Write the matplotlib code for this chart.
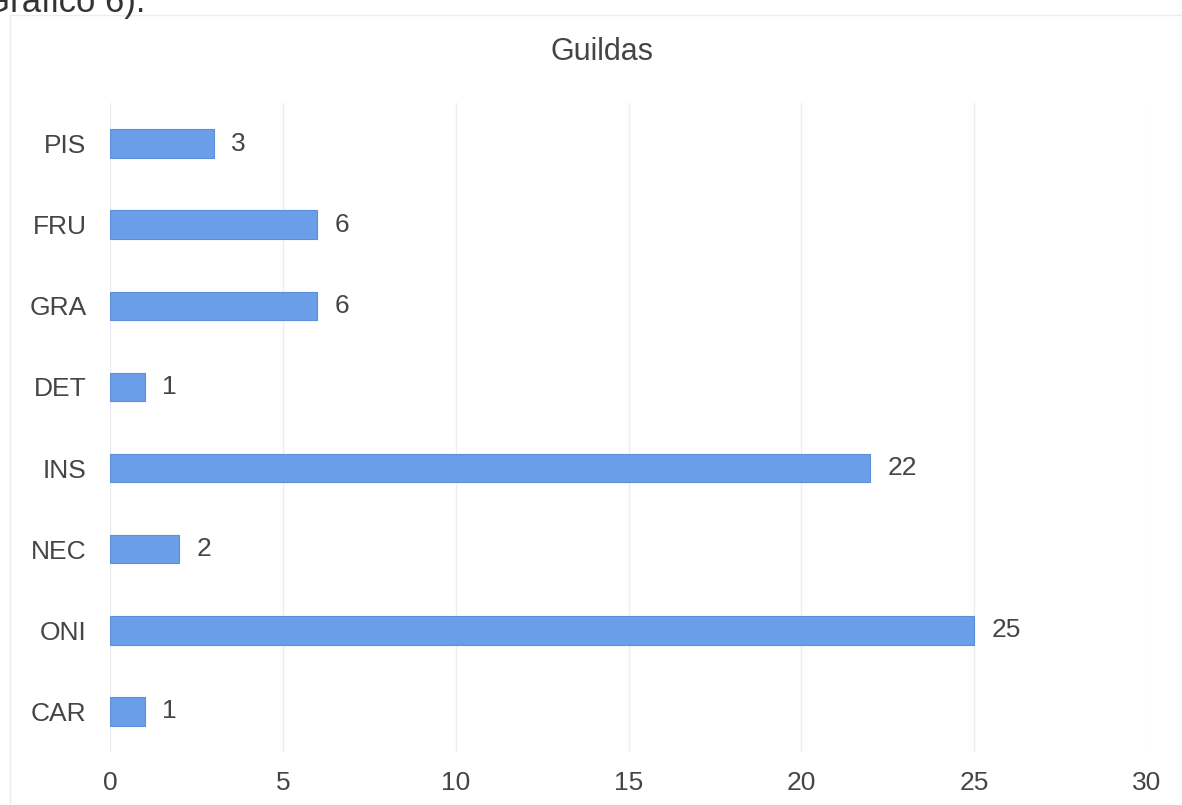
import matplotlib
matplotlib.use("Agg")
import matplotlib.pyplot as plt
from matplotlib.lines import Line2D

categories = ["CAR", "ONI", "NEC", "INS", "DET", "GRA", "FRU", "PIS"]
values = [1, 25, 2, 22, 1, 6, 6, 3]
xticks = [0, 5, 10, 15, 20, 25, 30]
title = "Guildas"

plt.rcParams['font.family'] = ['Liberation Sans', 'DejaVu Sans']
text_color = "#454545"

fig = plt.figure(figsize=(11.82, 8.05), dpi=100)
fig.patch.set_facecolor("white")

# page text cut at top (as in the scanned reference)
fig.text(-0.014, 1 - 12/805, "Gráfico 6).", fontsize=25, color="#333333",
         ha="left", va="baseline")
# faint chart border
fig.add_artist(Line2D([10/1182, 1.0], [1-15/805, 1-15/805], color="#ebebf0", lw=1.0))
fig.add_artist(Line2D([10/1182, 10/1182], [0, 1-15/805], color="#ebebf0", lw=1.0))

ax = fig.add_axes([110/1182, 53/805, 1037/1182, 649/805])
ypos = list(range(len(categories)))
ax.barh(ypos, values, height=0.35, color="#6a9ee8", edgecolor="#5b8fda",
        linewidth=0.8, zorder=3)

for y, v in zip(ypos, values):
    ax.text(v + 0.5, y, str(v), va="center", ha="left", fontsize=19, color=text_color)

ax.set_xlim(0, 30)
ax.set_ylim(-0.5, len(categories) - 0.5)
ax.set_xticks(xticks)
ax.set_xticklabels([str(t) for t in xticks])
ax.set_yticks(ypos)
ax.set_yticklabels(categories)
ax.tick_params(axis="x", length=0, pad=14, labelsize=19, labelcolor=text_color)
ax.tick_params(axis="y", length=0, pad=17, labelsize=19, labelcolor=text_color)
ax.grid(axis="x", color="#ececf2", lw=1.0, zorder=0)
for s in ax.spines.values():
    s.set_visible(False)

fig.text(602/1182, 1 - 52/805, title, ha="center", va="center", fontsize=22, color=text_color)

fig.savefig("out.png", dpi=100)
